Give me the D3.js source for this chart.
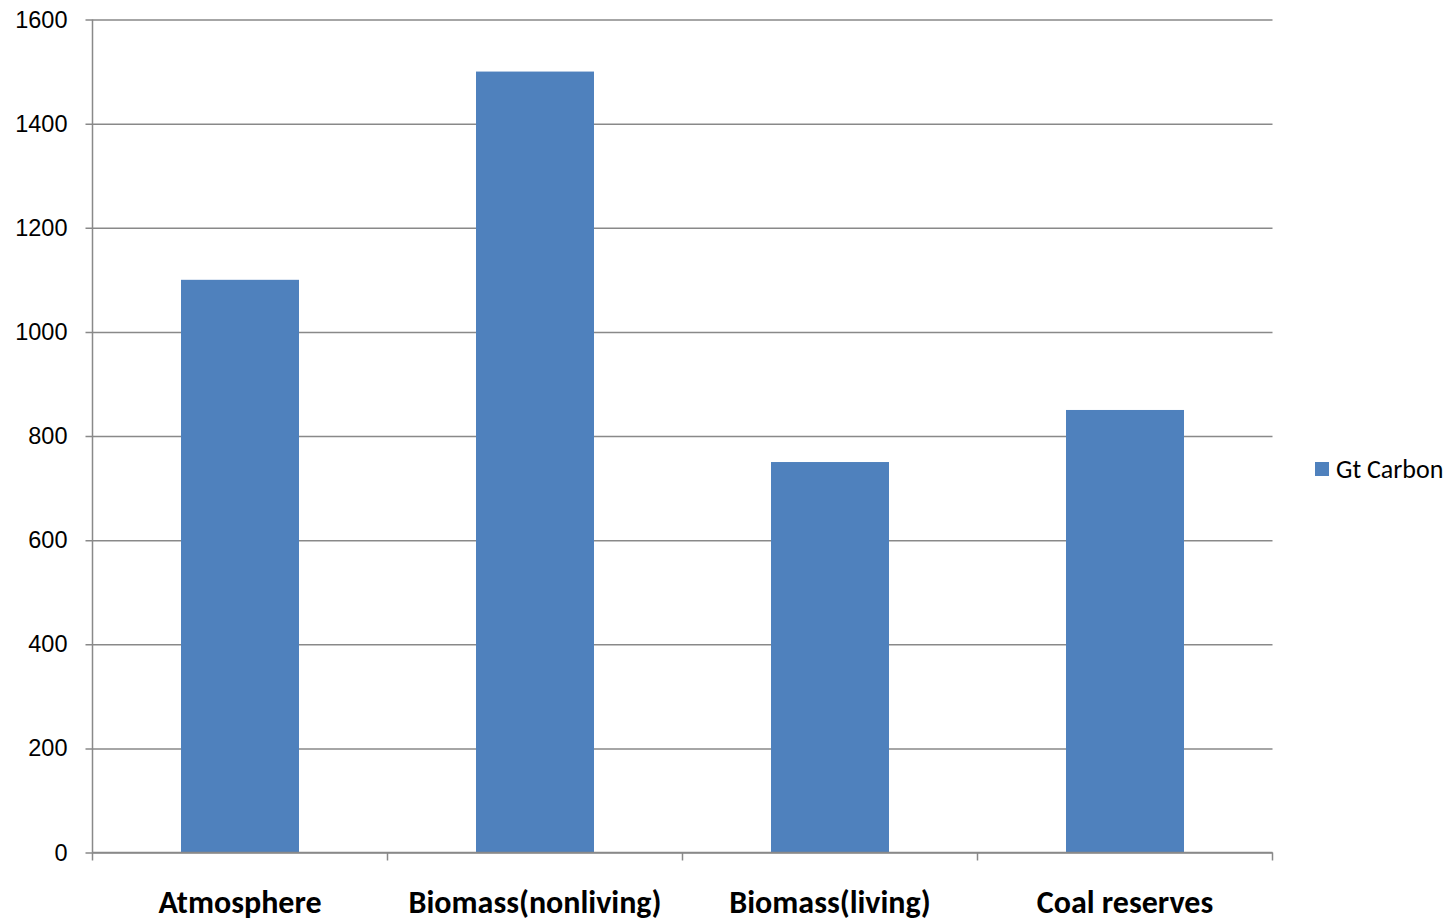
<!DOCTYPE html>
<html>
<head>
<meta charset="utf-8">
<script src="https://cdn.jsdelivr.net/npm/d3@7/dist/d3.min.js"></script>
<style>
  html, body { margin: 0; padding: 0; background: #fff; }
  svg { display: block; font-family: Carlito, Calibri, Lato, "Open Sans", sans-serif; }
</style>
</head>
<body>
<svg id="chart" width="1451" height="923"></svg>
<script>
// Carbon stocks, Gt
const categories = ["Atmosphere", "Biomass(nonliving)", "Biomass(living)", "Coal reserves"];
const gtCarbon = [1100, 1500, 750, 850];
const yTicks = [0, 200, 400, 600, 800, 1000, 1200, 1400, 1600];
const seriesName = "Gt Carbon";

const svg = d3.select("#chart");
const plot = { left: 92.5, right: 1272.5, top: 19.5, bottom: 852.5 };
const gridColor = "#898989";
const barColor = "#4f81bd";

const x = d3.scaleBand().domain(categories).range([plot.left, plot.right]).paddingInner(0.6).paddingOuter(0.3);
const xBand = d3.scaleBand().domain(categories).range([plot.left, plot.right]);
const y = d3.scaleLinear().domain([0, 1600]).range([plot.bottom, plot.top]);

// horizontal gridlines with left tick stubs
const yAxis = d3.axisLeft(y).tickValues(yTicks).tickFormat(d3.format("d"))
  .tickSize(-(plot.right - plot.left)).tickSizeOuter(0);
const gy = svg.append("g").attr("transform", `translate(${plot.left},0)`).call(yAxis);
gy.select(".domain").remove();
gy.selectAll(".tick line").attr("stroke", gridColor).attr("stroke-width", 1.5).attr("x1", -7);
gy.selectAll(".tick text").attr("fill", "#000").style("font-size", "23.5px").attr("x", -25);

// vertical axis line
svg.append("line")
  .attr("x1", plot.left).attr("x2", plot.left)
  .attr("y1", plot.top).attr("y2", plot.bottom)
  .attr("stroke", gridColor).attr("stroke-width", 1.5);

// bars
svg.append("g").selectAll("rect")
  .data(categories.map((c, i) => ({ c, v: gtCarbon[i] })))
  .join("rect")
  .attr("x", d => x(d.c))
  .attr("width", x.bandwidth())
  .attr("y", d => y(d.v))
  .attr("height", d => y(0) - y(d.v))
  .attr("fill", barColor);

// category axis
const gx = svg.append("g").attr("transform", `translate(0,${plot.bottom})`);
gx.append("line")
  .attr("x1", plot.left).attr("x2", plot.right)
  .attr("stroke", gridColor).attr("stroke-width", 1.5);
const boundaries = categories.map(c => xBand(c)).concat([plot.right]);
gx.selectAll("line.tick").data(boundaries).join("line")
  .attr("class", "tick")
  .attr("x1", d => d).attr("x2", d => d)
  .attr("y1", 0).attr("y2", 8)
  .attr("stroke", gridColor).attr("stroke-width", 1.5);
gx.selectAll("text").data(categories).join("text")
  .attr("x", d => xBand(d) + xBand.bandwidth() / 2)
  .attr("y", 60)
  .attr("text-anchor", "middle")
  .style("font-size", "32px")
  .style("font-weight", "bold")
  .attr("fill", "#000")
  .text(d => d);

// legend
const lg = svg.append("g").attr("transform", "translate(1315,462)");
lg.append("rect").attr("width", 14).attr("height", 14).attr("fill", barColor);
lg.append("text").attr("x", 21).attr("y", 16).style("font-size", "26px").attr("fill", "#000").text(seriesName);
</script>
</body>
</html>
